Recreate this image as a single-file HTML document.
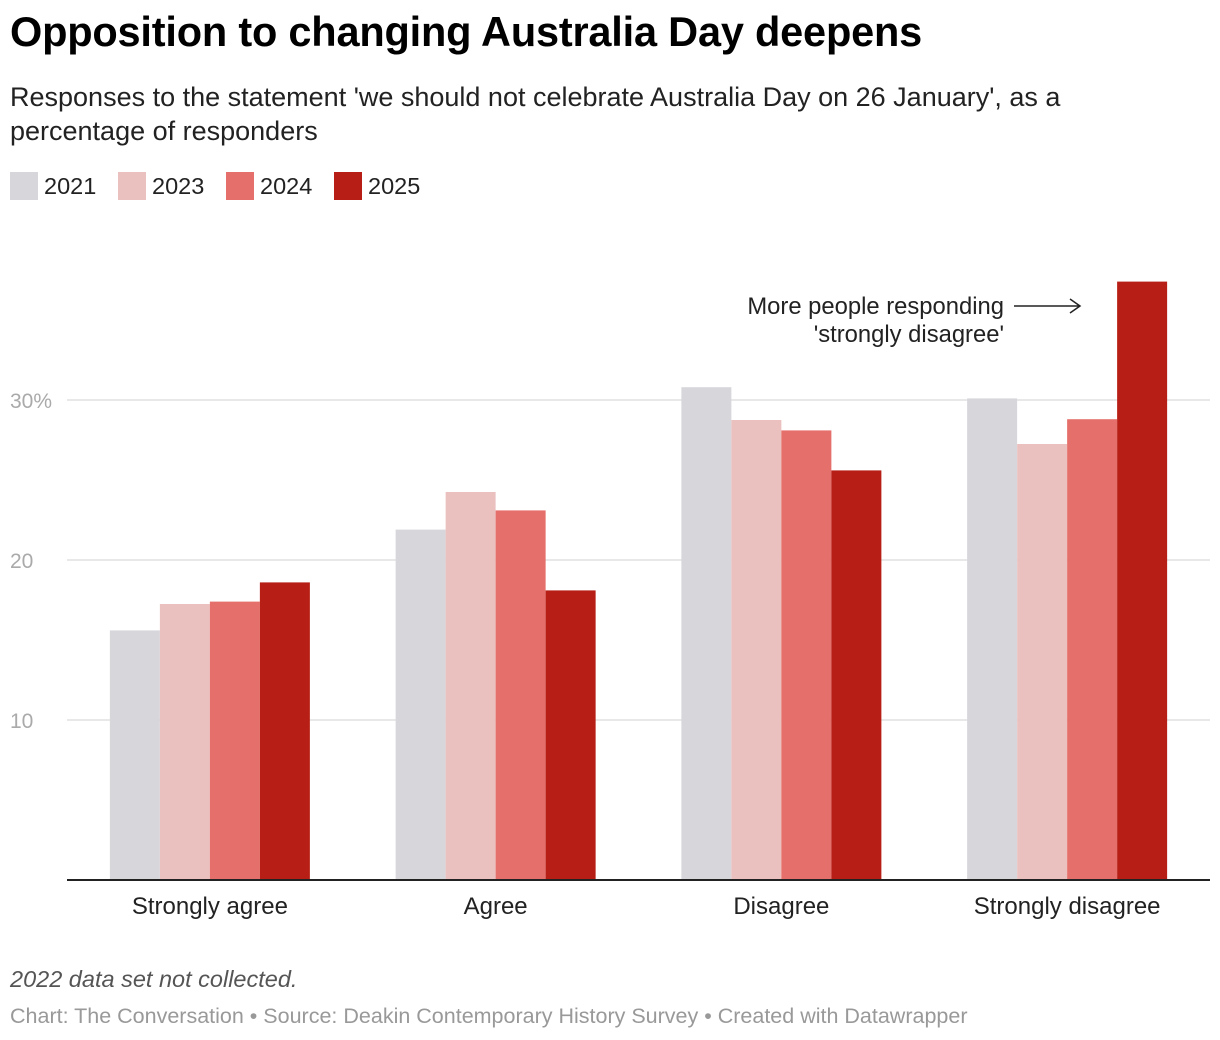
<!DOCTYPE html>
<html><head><meta charset="utf-8">
<style>
body{margin:0;background:#fff;width:1220px;height:1040px;overflow:hidden;font-family:"Liberation Sans",sans-serif;}
h1{position:absolute;left:10px;top:8px;margin:0;font-size:41.5px;font-weight:bold;color:#000;letter-spacing:-0.2px}
.sub{position:absolute;left:10px;top:80px;font-size:27px;line-height:34px;color:#222;width:1100px}
.legend{position:absolute;left:10px;top:172px;font-size:23.5px;color:#222}
.li{position:absolute;top:0;display:flex;align-items:center;white-space:nowrap}
.sw{width:28px;height:28px;margin-right:6px}
.note{position:absolute;left:10px;top:966px;font-size:23.5px;font-style:italic;color:#555}
.src{position:absolute;left:10px;top:1004px;font-size:21.5px;color:#999}
</style></head><body>
<h1>Opposition to changing Australia Day deepens</h1>
<div class="sub">Responses to the statement 'we should not celebrate Australia Day on 26 January', as a percentage of responders</div>
<div class="legend">
<div class="li" style="left:0"><div class="sw" style="background:#d7d6db"></div>2021</div>
<div class="li" style="left:108px"><div class="sw" style="background:#ebc1c0"></div>2023</div>
<div class="li" style="left:216px"><div class="sw" style="background:#e5706b"></div>2024</div>
<div class="li" style="left:324px"><div class="sw" style="background:#b71f16"></div>2025</div>
</div>
<svg id="chart" width="1220" height="1040" style="position:absolute;left:0;top:0"></svg>
<div class="note">2022 data set not collected.</div>
<div class="src">Chart: The Conversation • Source: Deakin Contemporary History Survey • Created with Datawrapper</div>
<script>
const categories=["Strongly agree","Agree","Disagree","Strongly disagree"];
const seriesNames=["2021","2023","2024","2025"];
const s2021=[15.6,21.9,30.8,30.1];
const s2023=[17.25,24.25,28.75,27.25];
const s2024=[17.4,23.1,28.1,28.8];
const s2025=[18.6,18.1,25.6,37.4];
const ticks=[10,20,30];
const tickLabels=["10","20","30%"];
const colors=["#d7d6db","#ebc1c0","#e5706b","#b71f16"];
const svg=document.getElementById('chart');
const NS="http://www.w3.org/2000/svg";
const x0=67,x1=1210,yBase=880,pxPer=16;
const y=v=>yBase-v*pxPer;
const gw=(x1-x0)/categories.length, bw=50;
function mk(t,a){const e=document.createElementNS(NS,t);for(const k in a)e.setAttribute(k,a[k]);svg.appendChild(e);return e;}
ticks.forEach((t,i)=>{
 const l=mk('line',{x1:x0,x2:x1,y1:y(t),y2:y(t),stroke:'#e0e0e0','stroke-width':1.5});
 
 
 const tx=mk('text',{x:10,y:y(t)+8,'font-size':21,fill:'#aaa'});tx.textContent=tickLabels[i];
 
 
});
const all=[s2021,s2023,s2024,s2025];
categories.forEach((c,ci)=>{
 const cx=x0+gw*(ci+0.5);
 all.forEach((s,si)=>{
  const bx=cx-2*bw+si*bw;
  const r=mk('rect',{x:bx,y:y(s[ci]),width:bw,height:s[ci]*pxPer,fill:colors[si]});
  
  
 });
 const t=mk('text',{x:cx,y:914,'font-size':24,fill:'#222','text-anchor':'middle'});t.textContent=c;
 
 
});
const ax=mk('line',{x1:x0,x2:x1,y1:yBase,y2:yBase,stroke:'#222','stroke-width':2});


const a1=mk('text',{x:1004,y:314,'font-size':23.8,fill:'#222','text-anchor':'end'});a1.textContent="More people responding";


const a2=mk('text',{x:1004,y:342,'font-size':23.8,fill:'#222','text-anchor':'end'});a2.textContent="'strongly disagree'";


const ar=mk('path',{d:'M1014 306 H1080 M1070 299 L1080 306 L1070 313',stroke:'#222','stroke-width':1.5,fill:'none'});


</script>
</body></html>
